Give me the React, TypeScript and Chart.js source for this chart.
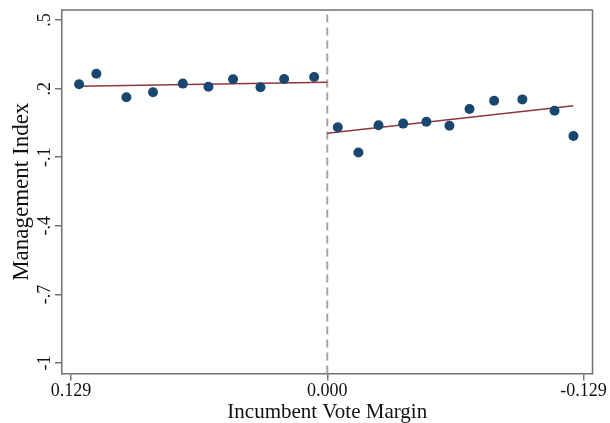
import React, { useEffect, useRef } from "react";
import { Chart, registerables } from "chart.js";

Chart.register(...registerables);

// Binned means of the management index by incumbent vote margin
const leftBinX = [0.1249, 0.1162, 0.1011, 0.0877, 0.0727, 0.0598, 0.0474, 0.0336, 0.0217, 0.0066];
const leftBinY = [0.219, 0.265, 0.162, 0.184, 0.222, 0.208, 0.241, 0.206, 0.242, 0.251];
const rightBinX = [-0.0053, -0.0157, -0.0258, -0.0382, -0.0499, -0.0615, -0.0716, -0.084, -0.0982, -0.1144, -0.1239];
const rightBinY = [0.031, -0.079, 0.04, 0.047, 0.055, 0.038, 0.111, 0.147, 0.153, 0.103, -0.007];

// Linear fits on each side of the cutoff
const leftFitX = [0.1249, 0];
const leftFitY = [0.211, 0.228];
const rightFitX = [0, -0.1239];
const rightFitY = [0.005, 0.125];

// Axis ranges and ticks
const xRange = [-0.1335, 0.1335];
const yRange = [-1.046, 0.544];
const xTicks = [0.129, 0, -0.129];
const yTicks = [0.5, 0.2, -0.1, -0.4, -0.7, -1];
const yTickLabels = [".5", ".2", "-.1", "-.4", "-.7", "-1"];

const FRAME = "#727272";
const NAVY = "#1a476f";
const MAROON = "#90353b";
const SERIF = "'Liberation Serif', 'Times New Roman', serif";

const pts = (xs: number[], ys: number[]) => xs.map((x, i) => ({ x, y: ys[i] }));

const framePlugin = {
  id: "stataFrame",
  afterDraw(chart: any) {
    const { ctx, chartArea: a, scales } = chart;
    ctx.save();
    ctx.strokeStyle = FRAME;
    ctx.lineWidth = 1.5;
    ctx.beginPath();
    ctx.moveTo(a.left, a.top);
    ctx.lineTo(a.right, a.top);
    ctx.lineTo(a.right, a.bottom);
    ctx.stroke();

    // vertical y tick labels
    ctx.fillStyle = "#111";
    ctx.font = `18px ${SERIF}`;
    ctx.textAlign = "center";
    ctx.textBaseline = "alphabetic";
    yTicks.forEach((v, i) => {
      const y = scales.y.getPixelForValue(v);
      ctx.save();
      ctx.translate(a.left - 12.5, y);
      ctx.rotate(-Math.PI / 2);
      ctx.fillText(yTickLabels[i], 0, 0);
      ctx.restore();
    });
    ctx.restore();
  },
};

export default function App() {
  const ref = useRef<HTMLCanvasElement | null>(null);

  useEffect(() => {
    if (!ref.current) return;
    const chart = new Chart(ref.current, {
      type: "scatter",
      data: {
        datasets: [
          {
            data: pts(leftBinX, leftBinY),
            pointRadius: 5,
            pointBackgroundColor: NAVY,
            pointBorderWidth: 0,
          },
          {
            data: pts(rightBinX, rightBinY),
            pointRadius: 5,
            pointBackgroundColor: NAVY,
            pointBorderWidth: 0,
          },
          {
            data: pts(leftFitX, leftFitY),
            showLine: true,
            borderColor: MAROON,
            borderWidth: 1.5,
            pointRadius: 0,
          },
          {
            data: pts(rightFitX, rightFitY),
            showLine: true,
            borderColor: MAROON,
            borderWidth: 1.5,
            pointRadius: 0,
          },
          {
            data: [
              { x: 0, y: yRange[0] },
              { x: 0, y: yRange[1] },
            ],
            showLine: true,
            borderColor: "#a6a6a6",
            borderWidth: 2,
            borderDash: [8, 5],
            pointRadius: 0,
          },
        ],
      },
      options: {
        animation: false,
        responsive: false,
        devicePixelRatio: 1,
        layout: { padding: { top: 10, right: 17.5, left: 0, bottom: 0 } },
        plugins: { legend: { display: false }, tooltip: { enabled: false } },
        scales: {
          x: {
            type: "linear",
            reverse: true,
            min: xRange[0],
            max: xRange[1],
            afterBuildTicks: (s: any) => {
              s.ticks = xTicks.map((value) => ({ value }));
            },
            afterFit: (s: any) => {
              s.height = 49.5;
            },
            ticks: {
              padding: 0,
              maxRotation: 0,
              color: "#111",
              font: { family: SERIF, size: 18 },
              callback: (v: any) => Number(v).toFixed(3),
            },
            grid: {
              drawOnChartArea: false,
              drawTicks: true,
              tickLength: 7,
              color: FRAME,
              lineWidth: 1.5,
            },
            border: { display: true, color: FRAME, width: 1.5 },
            title: {
              display: true,
              text: "Incumbent Vote Margin",
              color: "#111",
              font: { family: SERIF, size: 21, lineHeight: 1 },
              padding: { top: 0, bottom: 0 },
            },
          },
          y: {
            type: "linear",
            min: yRange[0],
            max: yRange[1],
            afterBuildTicks: (s: any) => {
              s.ticks = yTicks.map((value) => ({ value }));
            },
            afterFit: (s: any) => {
              s.width = 62;
            },
            ticks: { display: true, color: "rgba(0,0,0,0)", font: { size: 1 } },
            grid: {
              drawOnChartArea: false,
              drawTicks: true,
              tickLength: 7,
              color: FRAME,
              lineWidth: 1.5,
            },
            border: { display: true, color: FRAME, width: 1.5 },
            title: {
              display: true,
              text: "Management Index",
              color: "#111",
              font: { family: SERIF, size: 23, lineHeight: 1 },
              padding: { top: 10, bottom: 0 },
            },
          },
        },
      },
      plugins: [framePlugin],
    });
    return () => chart.destroy();
  }, []);

  return (
    <div style={{ position: "fixed", left: 0, top: 0, width: 610, height: 423, background: "#fff" }}>
      <canvas ref={ref} width={610} height={423} />
    </div>
  );
}
